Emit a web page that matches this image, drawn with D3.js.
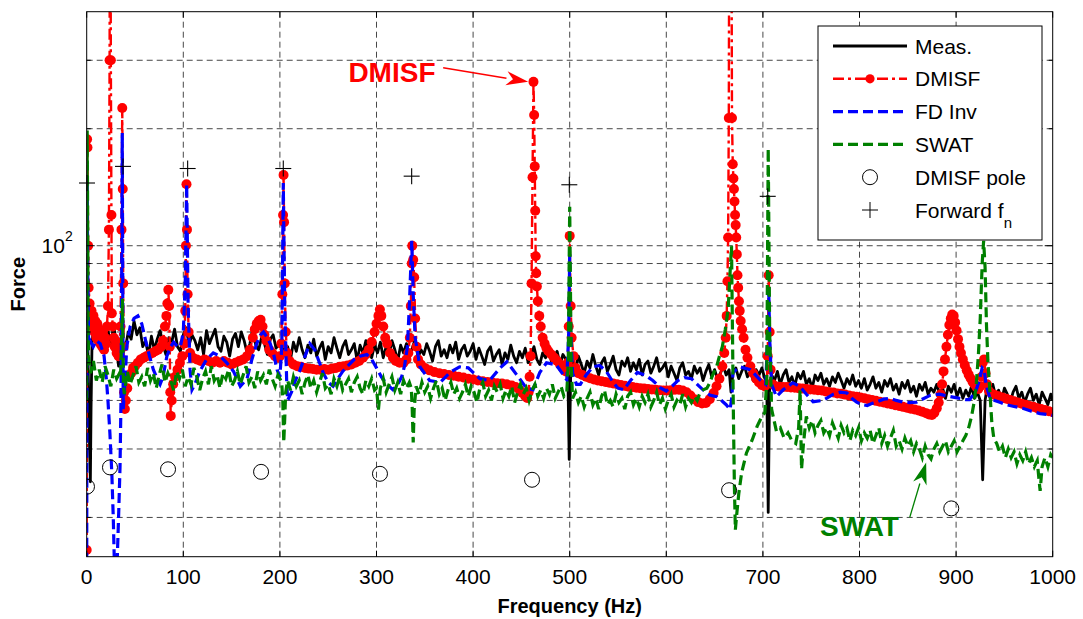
<!DOCTYPE html>
<html>
<head>
<meta charset="utf-8">
<script src="https://d3js.org/d3.v7.min.js"></script>
<style>
  body { margin: 0; background: #fff; }
  text { font-family: "Liberation Sans", Arial, sans-serif; }
</style>
</head>
<body>
<svg id="chart" width="1083" height="619"></svg>
<script>
// ---- data: [frequency Hz, force] ----
const meas = [[0,50],[1,58],[2,42],[3,30],[3.8,24.7],[4.5,38],[5.5,56],[7,61.5],[10,58],[13,62.5],[16,59.5],[19,56.5],[22,60.5],[25,55.5],[28,63],[31,54],[33,49],[35,51],[37,57],[40,54.5],[43,60],[46,57.5],[49,64],[52,59],[55,61.5],[58,55],[61,57],[64,52],[67,58.5],[70,54],[73,57.5],[76,60.5],[79,55.5],[82,52.5],[85,58],[88,56.5],[91,61],[94,55],[97,53.5],[100,59],[103,61.5],[106,55.5],[109,59],[112,57],[115,54],[118,58],[121,52.5],[124,60.5],[127,56],[130,58.5],[133,61],[136,55],[139,53.5],[142,58.5],[145,56.5],[148,52],[151,57.5],[154,59.5],[157,55],[160,60],[163,57],[166,53],[169,56],[172,61.5],[175,55.5],[178,54],[181,58],[184,56],[187,52.5],[190,57.5],[193,59],[196,54.5],[199,56],[202,57],[205,52.5],[208,55],[211,51],[214,56.5],[217,53.5],[220,58],[223,54],[226,51.5],[229,55.5],[232,53],[235,57.5],[238,52],[241,54.5],[244,56.5],[247,51],[250,55],[253,53],[256,58],[259,54.5],[262,51.5],[265,55],[268,57],[271,52.5],[274,54],[277,56],[280,50.5],[283,55.5],[286,53],[289,57],[292,54],[295,51.5],[298,55.5],[301,53],[304,56.5],[307,51.5],[310,55],[313,52.5],[316,57],[319,54],[322,50.5],[325,55.5],[328,53],[331,56],[334,52],[337,54.5],[340,57.5],[343,51.5],[346,54],[349,52.5],[352,56],[355,53.5],[358,50.5],[361,55],[364,57],[367,52],[370,54],[373,51.5],[376,55.5],[379,53],[382,56.5],[385,51],[388,54],[391,55.5],[394,52],[397,53.5],[400,56],[403,51],[406,54.5],[409,52],[412,49.5],[415,53.5],[418,55],[421,50.5],[424,52.5],[427,54],[430,49.5],[433,53],[436,51],[439,55.5],[442,52],[445,50],[448,53.5],[451,51.5],[454,54.5],[457,50],[460,52.5],[463,55],[466,51],[469,49.5],[472,53],[475,51.5],[478,54],[481,50.5],[484,52],[487,53.5],[490,49.5],[493,52.5],[496,51],[498,48],[499.5,28.2],[501,46],[503,51],[506,48],[509,52],[512,49.5],[515,47],[518,50.5],[521,48.5],[524,52.5],[527,49],[530,46.5],[533,50],[536,51.5],[539,47.5],[542,49.5],[545,52],[548,48],[551,46.5],[554,50.5],[557,49],[560,51.5],[563,47.5],[566,50],[569,48],[572,51],[575,46.5],[578,49.5],[581,50.5],[584,47],[587,49],[590,51.5],[593,47.5],[596,48.5],[599,50],[602,46],[605,49],[608,47],[611,45],[614,48.5],[617,50],[620,46.5],[623,47.5],[626,45.5],[629,49],[632,47],[635,48.5],[638,45],[641,47.5],[644,49.5],[647,46],[650,48],[653,45.5],[656,47],[659,49],[662,46.5],[665,48],[667,42],[669,47],[672,48.5],[675,45.5],[678,47.5],[681,49],[684,46],[687,47.5],[690,45],[693,48],[696,46.5],[699,48.5],[702,45.5],[704,44],[705.5,20.6],[707,44],[709,46.5],[712,45],[715,47.5],[718,44],[721,46.5],[724,48],[727,44.5],[730,46],[733,43.5],[736,47],[739,45.5],[742,47.5],[745,44],[748,45.5],[751,43],[754,46.5],[757,45],[760,47],[763,44],[766,45.5],[769,43.5],[772,46],[775,44.5],[778,47],[781,45],[784,43],[787,45.5],[790,44],[793,46.5],[796,43.5],[799,45],[802,43],[805,45.5],[808,42.5],[811,44],[814,46],[817,43],[820,44.5],[823,42],[826,45],[829,43.5],[832,45.5],[835,42.5],[838,44],[841,41.5],[844,44.5],[847,43],[850,45],[853,42],[856,43.5],[859,41],[862,44],[865,42.5],[868,44.5],[871,41.5],[874,43],[877,42],[880,44],[883,41.5],[886,43],[889,40.5],[892,43.5],[895,42],[898,44],[901,41],[904,43],[907,40.5],[910,42.5],[913,41],[916,43.5],[919,40.5],[922,42],[925,40],[927.5,25],[930,40],[932,43],[935,41.5],[938,44],[941,41],[944,42.5],[947,40],[950,43],[953,41.5],[956,39.5],[959,42],[962,43.5],[965,40.5],[968,42],[971,39.5],[974,41.5],[977,43],[980,40],[983,41.5],[986,39],[989,42],[992,40.5],[995,39],[998,41.5],[1000,40]];

const dmisf = [[0,16.5],[0.4,188],[0.8,179],[1.5,100],[2,78],[3,71],[4,65],[5,68],[6,62],[7,66],[8,60],[9,64],[10,58],[11,63],[12,57],[13,61],[14,56],[15,60],[16,55],[17,59],[18,54],[19,58],[20,56],[21,62],[22,70],[23,110],[23.7,300],[24.2,2000],[25,300],[25.6,120],[26,67],[27,62],[28,58],[29,55],[30,57],[31,53],[32,55],[33,52],[34,56],[35,62],[36,110],[36.8,226],[37.3,140],[37.8,80],[38.2,55],[38.7,42],[39.5,38],[40.5,40],[42,43],[44,46],[46,47],[48,48.5],[50,49],[53,50],[56,51],[59,51.5],[62,52],[65,52.5],[68,53],[71,53.5],[74,54],[77,55],[79,57],[81,62],[82.5,66],[83.5,71],[84.5,77],[85.3,70],[86,55],[86.5,42],[87,36.5],[88,40],[89.5,44],[91.5,46],[94,48],[96.5,50],[99,52],[101,56],[102,68],[102.7,100],[103.3,144],[103.8,110],[104.5,75],[105.5,60],[107,53],[110,51.5],[114,51],[118,50.5],[122,51],[126,50.5],[130,50],[134,50.5],[138,50],[142,50.5],[146,50],[150,49.5],[154,50],[158,50.5],[162,51],[166,52],[169,54],[172,58],[174,61],[176,63],[178,64],[180,64.5],[182,62],[184,59],[186,57],[189,54],[192,53],[195,52],[198,51.5],[200,52],[201.5,56],[202.5,75],[203.3,120],[203.8,152],[204.3,115],[205,80],[206,60],[207.5,53],[210,50.5],[214,49.5],[218,49],[222,48.8],[226,48.5],[230,48.3],[234,48.2],[238,48],[242,48],[246,48.2],[250,48],[254,48.3],[258,48.5],[262,48.8],[266,49],[270,49.2],[274,49.5],[278,50],[282,50.5],[286,51.5],[289,52.5],[292,54],[295,56.5],[298,60],[300,63],[302,66],[303.5,68.5],[305,66],[307,62],[309,58],[311,56],[314,53],[317,51.5],[320,50.5],[324,50],[328,50],[331,51],[333,53],[334.5,58],[335.5,70],[336.5,90],[337,100],[338,92],[339,83],[340,65],[341.5,55],[343,51],[346,49.5],[350,48.5],[355,47.8],[360,47.3],[365,47],[370,46.8],[375,46.5],[380,46.3],[385,46],[390,45.8],[395,45.5],[400,45.3],[405,45],[410,44.8],[415,44.6],[420,44.5],[425,44.3],[430,44.2],[435,44],[440,43.7],[444,43.3],[448,42.6],[451,41.8],[454,41],[456,40.6],[457.5,42],[458.5,46],[459.5,52],[460.5,80],[461.5,150],[462.5,264],[463.2,217],[463.8,160],[464.3,123],[464.8,94],[465.3,85],[466,78.6],[467,72],[468.5,66],[470,62],[472,58],[474,56],[476,54.5],[478,53.5],[481,52.5],[484,51.5],[487,50.5],[490,49.5],[493,48.5],[496,47.5],[498,50],[499,62],[500,106],[501,70],[502,58],[504,52],[506,48.5],[509,47],[513,46.5],[517,46],[521,45.6],[525,45.3],[529,45],[533,44.8],[537,44.6],[541,44.4],[545,44.2],[549,44],[553,43.8],[557,43.6],[561,43.4],[565,43.3],[569,43.1],[573,43],[577,42.9],[581,42.8],[585,42.7],[589,42.6],[593,42.5],[597,42.4],[601,42.4],[605,42.5],[609,42.6],[613,42.6],[617,42.4],[621,42],[625,41.2],[629,40.3],[633,39.6],[637,39.3],[641,39.4],[645,40.3],[649,41.8],[652,43.5],[655,45.5],[658,49],[660,53],[661.5,58],[662.5,66],[663.3,81],[664,105],[664.7,213],[665.5,2000],[667,2000],[668,213],[668.8,162],[669.5,149],[670,140],[670.6,130],[671.2,120],[671.8,113],[672.4,105],[673,95],[673.7,84],[674.4,78],[675.2,72],[676,68],[677,64],[678.5,61],[680,58],[682,54],[684,51.5],[687,49],[690,47],[693,45.5],[696,44.5],[699,43.8],[702,43.5],[704,44],[705,52],[706,84],[707,60],[708,48],[710,44],[713,43.5],[717,43.4],[721,43.3],[725,43.3],[729,43.2],[733,43.1],[737,43],[741,42.9],[745,42.8],[749,42.7],[753,42.6],[757,42.5],[761,42.4],[765,42.2],[769,42],[773,41.9],[777,41.7],[781,41.6],[785,41.4],[789,41.2],[793,41],[797,40.9],[801,40.7],[805,40.5],[809,40.3],[813,40.1],[817,39.9],[821,39.7],[825,39.5],[829,39.3],[833,39.1],[837,38.9],[841,38.7],[845,38.5],[849,38.3],[853,38.1],[857,37.9],[861,37.7],[865,37.4],[869,37.1],[872,36.8],[875,36.7],[877.5,37.2],[880,38.2],[882,39.5],[884,41.5],[885.5,44],[887,47.5],[888.5,51],[890,55],[891.5,59],[893,62.5],[894.5,65],[896,66.5],[897.5,66],[899,63.5],[900.5,60.5],[902,57.5],[903.5,55],[905,53],[907,51],[909,49.3],[911,47.8],[913,46.6],[915,45.6],[917,44.7],[919,44],[921,43.3],[923,42.8],[925,43.5],[926.5,46],[927.5,50],[929,51],[930.5,47],[932,44],[934,42.3],[937,41.6],[940,41.3],[944,41],[948,40.7],[952,40.4],[956,40.1],[960,39.8],[964,39.5],[968,39.2],[972,39],[976,38.7],[980,38.5],[984,38.2],[988,38],[992,37.8],[996,37.5],[1000,37.3]];

const fdInv = [[0,14],[0.5,150],[1,90],[2,56],[3.5,57],[6.8,55],[10,57],[14,56],[18,52],[20.5,45],[22,40],[24,33],[26,26],[27.5,20],[29,14],[31,14],[33,20],[34.5,27],[35.5,40],[36.2,80],[36.8,195],[37.3,80],[37.8,38],[39,42],[41.5,55],[45,62],[49,65],[53,66],[57,63],[61,57],[65,52],[69,48],[73,45.5],[76,44],[79,46],[83,52],[87,55],[90,56.5],[94,55],[97,55],[100,60],[102,80],[103.5,144],[105,70],[107,48],[109,42.6],[112,44],[117,47.5],[124,51],[131,53],[138,52],[145,50],[152,47.5],[159,43.5],[166,45.5],[171,51],[176,56],[180,59],[183,60],[187,58],[190,56],[194,52],[197,48],[200,46],[202,55],[203.5,145],[205,70],[207,45],[208,40],[212,42],[216,45],[221,48],[226,52],[231,56],[236,54],[241,50],[245,47],[250,44.5],[255,43.5],[260,45.5],[265,47.5],[270,49],[277,51],[283,52],[290,52.5],[295,51],[300,48.5],[305,46],[311,44],[317,42.6],[322,44],[326,46],[329,49],[332,55],[334,70],[336.5,103],[338,75],[340,58],[345,48.8],[355,45],[366,44.5],[376,47.2],[386,48.8],[395,48.5],[407,45.5],[417,45],[428,48.5],[435,50.3],[445,46.6],[455,43.1],[462,42.6],[469,47.2],[476,50],[486,49.4],[497,45.2],[499,60],[500,95],[501,60],[503,47],[507,44],[511,44],[517,46.5],[524,48.8],[531,49.2],[538,47.5],[545,44.5],[550,43],[556,42.6],[563,45],[570,47.2],[578,46.5],[586,45],[594,43.1],[600,42.3],[606,43.5],[612,45],[619,45.8],[626,45.5],[632,44],[638,42.6],[645,41.3],[652,40.9],[658,39.8],[662,39],[666,37.9],[668,41],[669,47.2],[676,48.8],[687,48],[697,45.2],[703,44],[705,60],[706,78],[707,58],[709,44],[714,40.9],[721,42.6],[731,44.4],[738,43.5],[745,41.5],[752,39.7],[762,40],[773,41.5],[780,42],[787,41.8],[792,40.5],[797,39.6],[803,39],[808,38.8],[813,39.3],[818,39.7],[825,40.3],[832,40.5],[838,40],[845,39.6],[852,39.5],[859,39.6],[866,40.4],[873,41.2],[883,41.5],[892,41],[901,40.6],[910,40.2],[914,40.2],[920,42],[924,45],[927,48.5],[929,48],[931,44],[935,40.5],[940,40],[946,39.5],[952,39],[960,38.6],[969,38.2],[978,37.5],[987,37],[995,36.8],[1000,36.6]];

const swat = [[0,40],[0.5,198],[1,120],[1.5,60],[2,52],[4,47],[7,50.5],[10,45],[13,48],[16,44.5],[19,49],[22,46.5],[25,43.5],[28,48],[31,45.5],[34,47],[35,46],[36,55],[37,73],[38,44],[39,41.5],[42,47.5],[45,44],[48,46.5],[51,49],[54,44.5],[57,46],[60,43.5],[63,48.5],[66,45],[69,47],[72,43],[75,46.5],[78,49.5],[81,44.5],[84,47],[87,45],[90,42.5],[93,47.5],[96,45.5],[99,48],[102,43.5],[105,46],[108,44],[111,48.5],[114,46],[117,42.5],[120,45.5],[123,47.5],[126,44],[129,49],[132,45],[135,46.5],[138,43],[141,47],[144,45.5],[147,48],[150,43.5],[153,45],[156,47.5],[159,44],[162,46.5],[165,49],[168,44.5],[171,46],[174,43],[177,47.5],[180,45],[183,46.5],[186,44],[189,48],[192,45.5],[195,43.5],[198,46.5],[201,45],[202,44],[203,40],[204,31.2],[205,36],[206,42],[208,45],[211,42.5],[214,46],[217,43.5],[220,45],[223,41.5],[226,44.5],[229,46.5],[232,43],[235,45],[238,42],[241,44.5],[244,47],[247,43],[250,44],[253,41.5],[256,45.5],[259,43.5],[262,46],[265,42.5],[268,44],[271,45.5],[274,42],[277,44.5],[280,46],[283,43],[286,41.5],[289,45],[292,43.5],[295,45.5],[298,42.5],[300,43],[302,37.9],[304,43],[307,45.5],[310,42],[313,44],[316,46],[319,42.5],[322,44.5],[325,41.5],[328,45],[331,43],[334,44.5],[336,43],[337,38],[338,31.2],[339,38],[341,43.5],[344,41.5],[347,44.5],[350,42],[353,43.5],[356,40.5],[359,43],[362,45],[365,41.5],[368,43],[371,40],[374,42.5],[377,44.5],[380,41.5],[383,43],[386,40.5],[389,42],[392,44],[395,41],[398,43.5],[401,42],[404,39.5],[407,43],[410,44.5],[413,41],[416,42.5],[419,40],[422,43.5],[425,42],[428,44],[431,40.5],[434,42.5],[437,41],[440,43.5],[443,39.5],[446,42],[449,44],[452,41.5],[455,43],[458,40],[461,42.5],[464,44],[467,41],[470,42.5],[473,40.5],[476,43],[479,41.5],[482,44],[485,40.5],[488,42],[491,43.5],[494,41],[497,42],[498.5,50],[500,126],[501.5,50],[503,40.5],[506,42],[509,39.5],[512,41],[515,38.5],[518,40.5],[521,42],[524,39],[527,40.5],[530,38],[533,41],[536,42.5],[539,39],[542,40],[545,38.5],[548,41.5],[551,39.5],[554,40.5],[557,38],[560,41],[563,42],[566,39],[569,40.5],[572,38.5],[575,41],[578,39.5],[581,41.5],[584,38.5],[587,40],[590,42],[593,39],[596,40.5],[599,38],[602,40],[605,41.5],[608,38.5],[611,40],[614,39],[617,41.5],[620,38.5],[623,40.5],[626,39.5],[629,41],[632,40],[635,42],[638,42.6],[642,43],[645,44.4],[648,46.5],[652,48.8],[655,52],[658,55],[661,60.8],[664,68.5],[666,85],[667.5,100],[668.5,60],[669.5,36],[670.5,24],[671.5,18.6],[673,20.5],[675,23],[678,26.1],[683,29.3],[689,31.7],[694,34.3],[699,36.4],[702,37.2],[704,45],[705.5,178],[707,60],[709,38],[714,33.3],[718,34],[722,32],[726,33],[730,31.5],[734,31],[737,34],[738.5,42.5],[740,26.6],[742,31],[745,36.4],[748,34],[751,35.5],[754,33],[757,34.5],[760,35.5],[763,33],[766,34],[769,32.5],[772,35],[775,33.5],[778,32],[781,34.5],[784,33],[787,34],[790,31.5],[793,33.5],[796,32.5],[799,34],[802,31.5],[805,33],[808,32],[811,33.5],[814,31],[817,32.5],[820,34],[823,31],[826,32.5],[829,30.5],[832,32],[835,33.5],[838,30.5],[841,31.5],[844,30],[847,32],[850,30.5],[853,31.5],[856,29.5],[859,31],[862,30],[865,28.5],[868,30.5],[871,29],[874,28.3],[877,30],[880,31],[883,29.5],[886,30.5],[889,31.5],[892,29.5],[895,30.5],[898,31.5],[901,29.5],[904,30.5],[907,31.5],[910,32.5],[913,34],[916,36.4],[919,40],[921,44.5],[923,52],[925,65],[927,90],[928.5,103],[930,88],[931.5,62],[933,50],[935,42],[937,35],[939,32],[942,31],[945,29.5],[948,30.5],[951,28.5],[954,30],[957,28.5],[960,29.5],[963,27.5],[966,29],[969,28],[972,29.5],[975,27.5],[978,28.5],[981,27],[984,28],[985.5,25.5],[987,23.4],[989,27],[992,28.5],[995,27],[998,29],[1000,28.5]];

const dmisfPoles = [[0.3,24.0],[24.1,26.9],[84.2,26.6],[180.5,26.2],[303.6,25.9],[461,25.0],[665,23.5],[895,21.1]];
const forwardFn = [[0.3,145],[37.6,160],[104.5,158],[203.5,158],[336.4,151],[499.6,143.5],[705,134]];

const xTicks = [0,100,200,300,400,500,600,700,800,900,1000];
const yMinor = [20,30,40,50,60,70,80,90,200,300];
const yMajor = [100];

// ---- layout ----
const svg = d3.select("#chart");
const pL = 86.7, pR = 1052.7, pT = 11.7, pB = 556.7;

const x = d3.scaleLinear().domain([0, 1000]).range([pL, pR]);
const y = d3.scaleLog().domain([15.85, 400]).range([pB, pT]);

svg.append("defs").append("clipPath").attr("id", "plotclip")
  .append("rect").attr("x", pL).attr("y", pT)
  .attr("width", pR - pL).attr("height", pB - pT);

// grid
const grid = svg.append("g").attr("stroke", "#333").attr("stroke-width", 0.9)
  .attr("stroke-dasharray", "6,4");
grid.selectAll(".gx").data(xTicks.slice(1, -1)).join("line")
  .attr("x1", d => x(d)).attr("x2", d => x(d)).attr("y1", pT).attr("y2", pB);
grid.selectAll(".gy").data(yMinor.concat(yMajor)).join("line")
  .attr("y1", d => y(d)).attr("y2", d => y(d)).attr("x1", pL).attr("x2", pR);

// series
const plot = svg.append("g").attr("clip-path", "url(#plotclip)");
const line = d3.line().x(d => x(d[0])).y(d => y(d[1]));

plot.append("path").datum(meas).attr("d", line)
  .attr("fill", "none").attr("stroke", "#000").attr("stroke-width", 2.8)
  .attr("stroke-linejoin", "round");

plot.append("path").datum(dmisf).attr("d", line)
  .attr("fill", "none").attr("stroke", "#ff0000").attr("stroke-width", 2.4)
  .attr("stroke-dasharray", "11,4,3,4");
plot.append("g").selectAll("circle").data(dmisf).join("circle")
  .attr("cx", d => x(d[0])).attr("cy", d => y(d[1])).attr("r", 5)
  .attr("fill", "#ff0000");

plot.append("path").datum(fdInv).attr("d", line)
  .attr("fill", "none").attr("stroke", "#0000ff").attr("stroke-width", 3.2)
  .attr("stroke-dasharray", "10,5");

plot.append("path").datum(swat).attr("d", line)
  .attr("fill", "none").attr("stroke", "#008000").attr("stroke-width", 3.2)
  .attr("stroke-dasharray", "10,5");

plot.append("g").selectAll("circle").data(dmisfPoles).join("circle")
  .attr("cx", d => x(d[0])).attr("cy", d => y(d[1])).attr("r", 7.5)
  .attr("fill", "none").attr("stroke", "#000").attr("stroke-width", 1);

const plus = svg.append("g").attr("stroke", "#000").attr("stroke-width", 1.1);
forwardFn.forEach(d => {
  const cx = x(d[0]), cy = y(d[1]);
  plus.append("line").attr("x1", cx - 8).attr("x2", cx + 8).attr("y1", cy).attr("y2", cy);
  plus.append("line").attr("x1", cx).attr("x2", cx).attr("y1", cy - 8).attr("y2", cy + 8);
});

// axes box and ticks
svg.append("rect").attr("x", pL).attr("y", pT)
  .attr("width", pR - pL).attr("height", pB - pT)
  .attr("fill", "none").attr("stroke", "#000").attr("stroke-width", 1);

const ticks = svg.append("g").attr("stroke", "#000").attr("stroke-width", 1);
xTicks.forEach(t => {
  ticks.append("line").attr("x1", x(t)).attr("x2", x(t)).attr("y1", pB).attr("y2", pB - 6);
  ticks.append("line").attr("x1", x(t)).attr("x2", x(t)).attr("y1", pT).attr("y2", pT + 6);
});
yMinor.forEach(t => {
  ticks.append("line").attr("y1", y(t)).attr("y2", y(t)).attr("x1", pL).attr("x2", pL + 4);
  ticks.append("line").attr("y1", y(t)).attr("y2", y(t)).attr("x1", pR).attr("x2", pR - 4);
});
yMajor.forEach(t => {
  ticks.append("line").attr("y1", y(t)).attr("y2", y(t)).attr("x1", pL).attr("x2", pL + 8);
  ticks.append("line").attr("y1", y(t)).attr("y2", y(t)).attr("x1", pR).attr("x2", pR - 8);
});

svg.append("g").selectAll("text").data(xTicks).join("text")
  .attr("x", d => x(d)).attr("y", pB + 27).attr("text-anchor", "middle")
  .attr("font-size", 21).text(d => d);

const yl = svg.append("text").attr("x", pL - 14).attr("y", y(100) + 7)
  .attr("text-anchor", "end").attr("font-size", 21);
yl.append("tspan").text("10");
yl.append("tspan").attr("dy", -12).attr("font-size", 14).text("2");

svg.append("text").attr("x", (pL + pR) / 2).attr("y", 613)
  .attr("text-anchor", "middle").attr("font-size", 20).attr("font-weight", "bold")
  .text("Frequency (Hz)");
svg.append("text").attr("transform", `translate(25,${(pT + pB) / 2}) rotate(-90)`)
  .attr("text-anchor", "middle").attr("font-size", 20).attr("font-weight", "bold")
  .text("Force");

// annotations
function arrow(from, to, color, text, textPos) {
  const x1 = x(from[0]), y1 = y(from[1]), x2 = x(to[0]), y2 = y(to[1]);
  const a = Math.atan2(y2 - y1, x2 - x1), L = 22, Wd = 7;
  const bx = x2 - L * Math.cos(a), by = y2 - L * Math.sin(a);
  svg.append("line").attr("x1", x1).attr("y1", y1).attr("x2", bx).attr("y2", by)
    .attr("stroke", color).attr("stroke-width", 1.3);
  svg.append("path").attr("fill", color)
    .attr("d", `M${x2},${y2}L${bx + Wd * Math.sin(a)},${by - Wd * Math.cos(a)}L${bx + 0.3 * L * Math.cos(a)},${by + 0.3 * L * Math.sin(a)}L${bx - Wd * Math.sin(a)},${by + Wd * Math.cos(a)}Z`);
  svg.append("text").attr("x", x(textPos[0])).attr("y", y(textPos[1]))
    .attr("text-anchor", "middle").attr("font-size", 28).attr("font-weight", "bold")
    .attr("fill", color).text(text);
}
arrow([369, 287], [457, 264], "#ff0000", "DMISF", [316, 264]);
arrow([852, 20], [869, 27.7], "#008000", "SWAT", [800, 17.9]);

// legend
const lg = svg.append("g");
lg.append("rect").attr("x", 818).attr("y", 26).attr("width", 224).attr("height", 214)
  .attr("fill", "#fff").attr("stroke", "#000").attr("stroke-width", 1);
const rows = [
  { label: "Meas.", stroke: "#000", dash: null, w: 2.8 },
  { label: "DMISF", stroke: "#ff0000", dash: "11,4,3,4", w: 2.4, dot: true },
  { label: "FD Inv", stroke: "#0000ff", dash: "10,5", w: 3.2 },
  { label: "SWAT", stroke: "#008000", dash: "10,5", w: 3.2 },
  { label: "DMISF pole", marker: "circle" },
  { label: "Forward f", marker: "plus", sub: "n" }
];
rows.forEach((r, i) => {
  const cy = 46 + i * 32.8;
  if (r.stroke) {
    lg.append("line").attr("x1", 833).attr("x2", 907).attr("y1", cy).attr("y2", cy)
      .attr("stroke", r.stroke).attr("stroke-width", r.w)
      .attr("stroke-dasharray", r.dash);
    if (r.dot) lg.append("circle").attr("cx", 870).attr("cy", cy).attr("r", 4.6).attr("fill", r.stroke);
  } else if (r.marker === "circle") {
    lg.append("circle").attr("cx", 870).attr("cy", cy).attr("r", 7.5)
      .attr("fill", "none").attr("stroke", "#000");
  } else {
    lg.append("line").attr("x1", 862).attr("x2", 878).attr("y1", cy).attr("y2", cy).attr("stroke", "#000");
    lg.append("line").attr("x1", 870).attr("x2", 870).attr("y1", cy - 8).attr("y2", cy + 8).attr("stroke", "#000");
  }
  const t = lg.append("text").attr("x", 915).attr("y", cy + 7.5).attr("font-size", 21);
  t.append("tspan").text(r.label);
  if (r.sub) t.append("tspan").attr("dy", 10).attr("font-size", 15).text(r.sub);
});
</script>
</body>
</html>
